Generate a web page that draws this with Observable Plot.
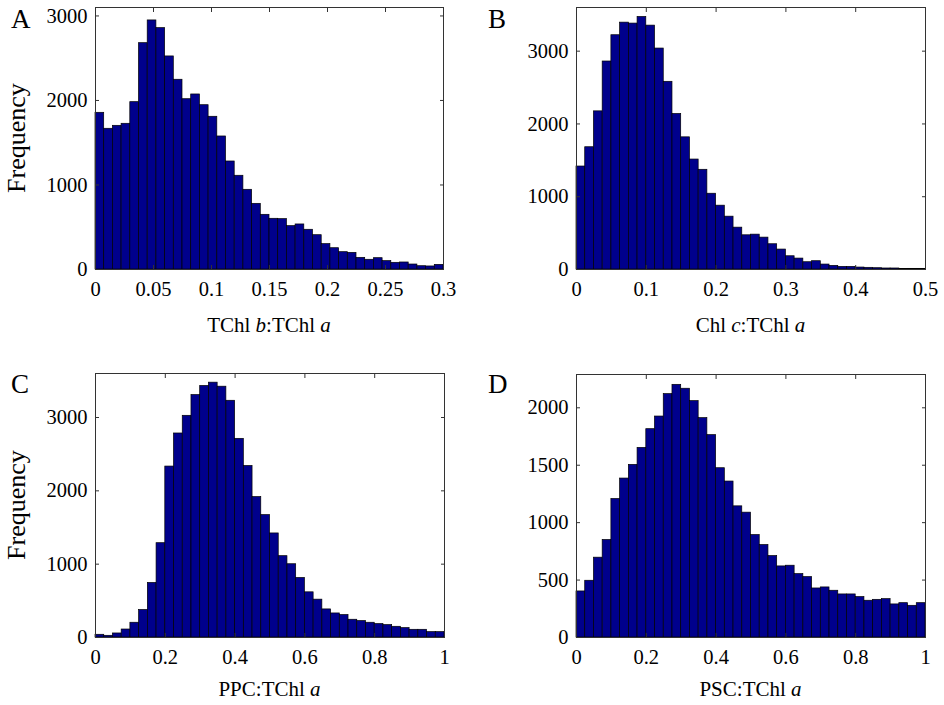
<!DOCTYPE html>
<html><head><meta charset="utf-8">
<script src="https://cdn.jsdelivr.net/npm/d3@7"></script>
<script src="https://cdn.jsdelivr.net/npm/@observablehq/plot@0.6"></script>
<style>
body{margin:0;background:#fff;}
#wrap{position:relative;width:944px;height:705px;font-family:"Liberation Serif","Times New Roman",serif;}
.panel{position:absolute;}
.panel svg, .panel svg text{font-family:"Liberation Serif","Times New Roman",serif !important;}
.letter{position:absolute;font-size:27px;line-height:1;}
</style></head><body><div id="wrap"></div>
<script>
// Panel A: TChl b:TChl a (40 bins, 0 to 0.3)
const countsA = [1854,1665,1700,1724,1980,2678,2947,2856,2521,2245,2015,2071,1944,1807,1574,1278,1109,943,777,647,
                 600,596,513,533,470,406,300,252,205,197,138,115,134,99,79,83,59,39,36,55];
// Panel B: Chl c:TChl a (40 bins, 0 to 0.5)
const countsB = [1415,1680,2173,2858,3219,3392,3379,3470,3351,3036,2579,2137,1816,1511,1370,1041,877,726,575,470,
                 479,438,347,274,182,150,100,114,68,50,36,36,27,23,18,14,14,5,9,9];
// Panel C: PPC:TChl a (40 bins, 0 to 1)
const countsC = [37,23,55,109,201,375,744,1286,2331,2782,3023,3306,3430,3475,3420,3228,2709,2339,1915,1669,
                 1419,1109,999,812,616,516,383,328,306,242,224,201,183,169,146,128,105,105,73,73];
// Panel D: PSC:TChl a (40 bins, 0 to 1)
const countsD = [401,494,695,849,1206,1384,1503,1651,1814,1924,2119,2200,2166,2058,1910,1762,1474,1358,1142,1087,
                 892,805,709,619,625,552,526,427,436,407,375,375,352,320,328,334,288,299,276,299];

const letters = ["A","B","C","D"];
const xRanges = [[0,0.3],[0,0.5],[0,1],[0,1]];
const yMax = [3100,3600,3600,2290];
const xTicksA = [0,0.05,0.1,0.15,0.2,0.25,0.3];
const xTicksB = [0,0.1,0.2,0.3,0.4,0.5];
const xTicksCD = [0,0.2,0.4,0.6,0.8,1];
const yTicksABC = [0,1000,2000,3000];
const yTicksD = [0,500,1000,1500,2000];
const xLabels = [["TChl ","b",":TChl ","a"],["Chl ","c",":TChl ","a"],["PPC:TChl ","a"],["PSC:TChl ","a"]];
const yLabel = "Frequency";

const wrap = document.getElementById("wrap");
const FILL = "#00008c";
const FONT = "'Liberation Serif', 'Times New Roman', serif";

function makePanel(counts, xr, ymax, xTicks, yTicks, labelParts, showY, box, margins, labelOff, letter, letterPos){
  const n = counts.length, w = (xr[1]-xr[0])/n;
  const data = counts.map((c,i)=>({x1: xr[0]+i*w, x2: xr[0]+(i+1)*w, y: c}));
  const txt = {fontSize:20.5, fontFamily: FONT, fill:"#000", label:null};
  const tk = {tickFormat: ()=>"", stroke:"#333", label:null};
  const fig = Plot.plot({
    width: box.w, height: box.h,
    marginLeft: margins[0], marginRight: margins[1], marginTop: margins[2], marginBottom: margins[3],
    style: {fontFamily: FONT, background: "#fff", overflow: "visible"},
    x: {domain: xr, label: null},
    y: {domain: [0, ymax], label: null},
    marks: [
      Plot.rectY(data, {x1:"x1", x2:"x2", y:"y", fill: FILL, stroke:"#000", strokeWidth:0.7}),
      Plot.frame({stroke:"#333", strokeWidth:1}),
      Plot.axisX(xTicks, {anchor:"bottom", tickSize:0, tickPadding:12, tickFormat: d=>String(d), ...txt}),
      Plot.axisX(xTicks, {anchor:"bottom", tickSize:-4, ...tk}),
      Plot.axisX(xTicks, {anchor:"top", tickSize:-4, ...tk}),
      Plot.axisY(yTicks, {anchor:"left", tickSize:0, tickPadding:8, tickFormat: d=>String(d), ...txt}),
      Plot.axisY(yTicks, {anchor:"left", tickSize:-4, ...tk}),
      Plot.axisY(yTicks, {anchor:"right", tickSize:-4, ...tk})
    ]
  });
  const div = document.createElement("div");
  div.className = "panel";
  div.style.left = box.x + "px"; div.style.top = box.y + "px";
  div.appendChild(fig);
  wrap.appendChild(div);
  const svg = d3.select(fig.tagName.toLowerCase()==="svg" ? fig : fig.querySelector("svg"));
  const xs = fig.scale("x").range, ys = fig.scale("y").range;
  const t = svg.append("text")
    .attr("x", (xs[0]+xs[1])/2).attr("y", box.h - margins[3] + labelOff)
    .attr("text-anchor","middle").attr("font-size", 21).attr("font-family", FONT).attr("fill","#000");
  labelParts.forEach((p,i)=>{
    const italic = (labelParts.length===4 ? (i===1||i===3) : i===1);
    t.append("tspan").text(p).attr("font-style", italic ? "italic" : "normal");
  });
  if (showY){
    const cy = (ys[0]+ys[1])/2;
    svg.append("text").attr("transform", `translate(25,${cy}) rotate(-90)`)
      .attr("text-anchor","middle").attr("font-size",26).attr("font-family",FONT).attr("fill","#000")
      .text(yLabel);
  }
  const L = document.createElement("div");
  L.className = "letter"; L.textContent = letter;
  L.style.left = letterPos[0] + "px"; L.style.top = letterPos[1] + "px";
  wrap.appendChild(L);
}

makePanel(countsA, xRanges[0], yMax[0], xTicksA, yTicksABC, xLabels[0], true,
  {x:0,y:0,w:472,h:352}, [95,29,7,83], 63, letters[0], [11,6]);
makePanel(countsB, xRanges[1], yMax[1], xTicksB, yTicksABC, xLabels[1], false,
  {x:472,y:0,w:472,h:352}, [104,19,7,83], 63, letters[1], [488,6]);
makePanel(countsC, xRanges[2], yMax[2], xTicksCD, yTicksABC, xLabels[2], true,
  {x:0,y:352,w:472,h:353}, [95,28,21,68], 59, letters[2], [11,371]);
makePanel(countsD, xRanges[3], yMax[3], xTicksCD, yTicksD, xLabels[3], false,
  {x:472,y:352,w:472,h:353}, [104,19,22,68], 59, letters[3], [488,371]);
</script></body></html>
